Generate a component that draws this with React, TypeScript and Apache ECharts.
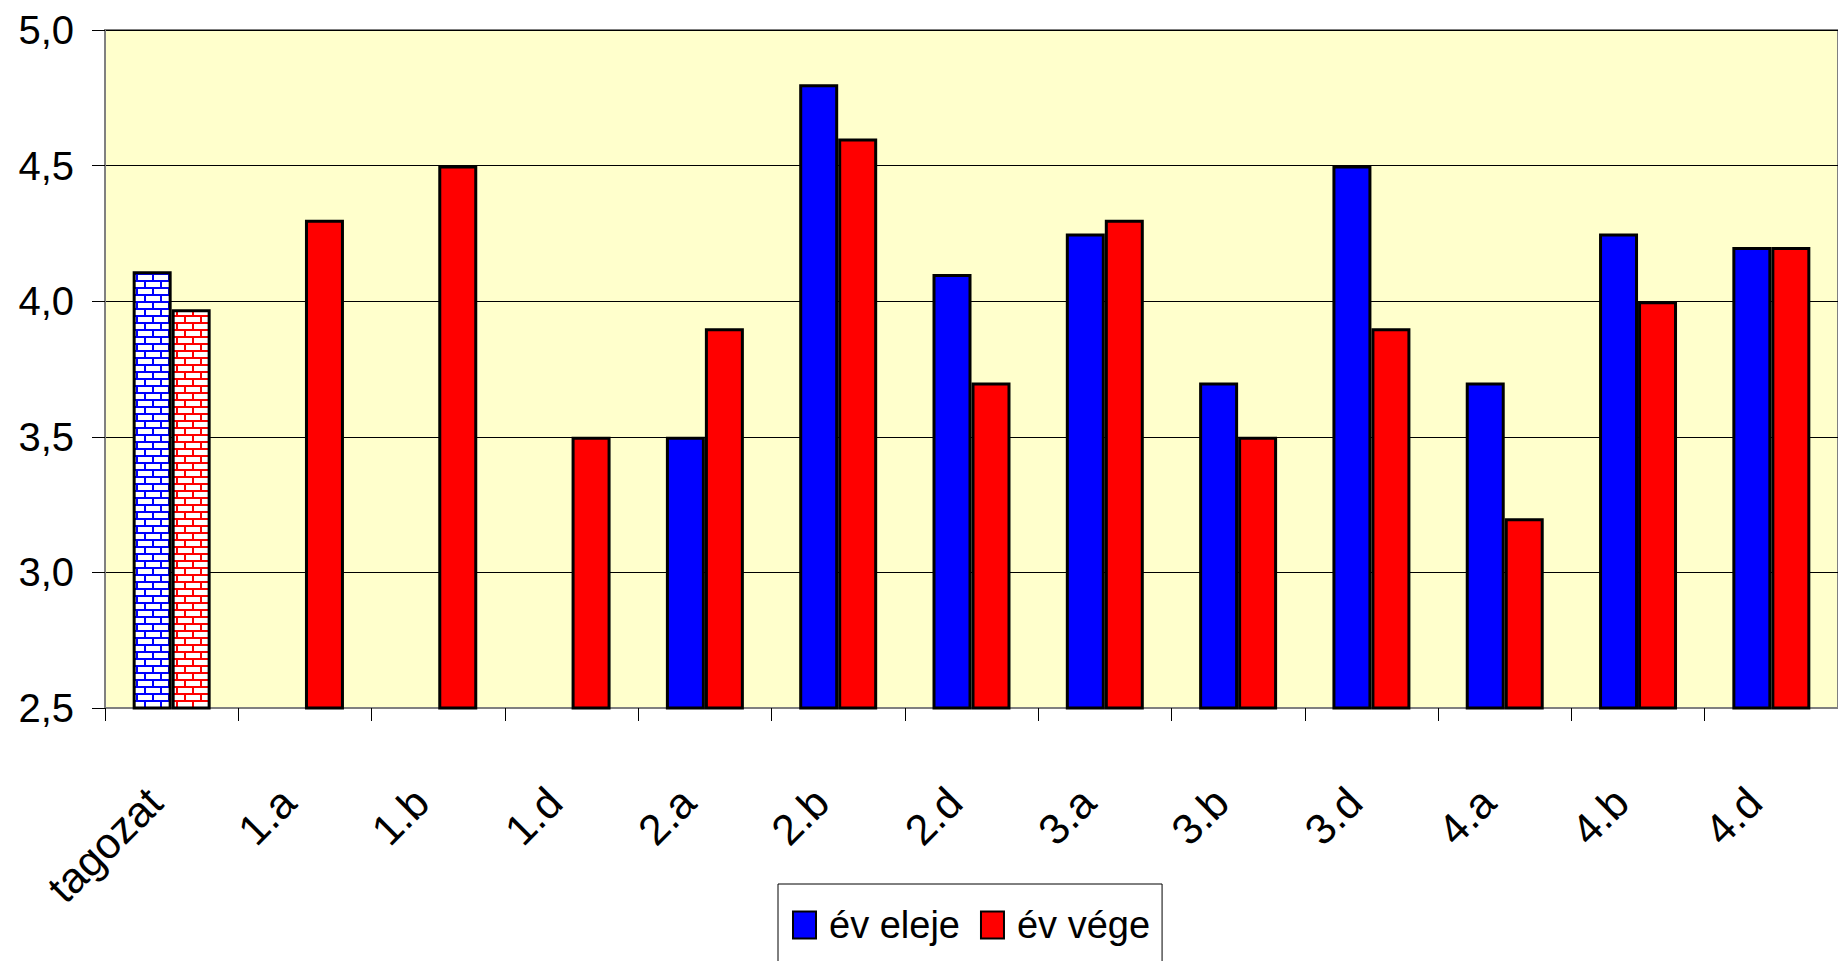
import React, { useEffect, useRef } from "react";
import * as echarts from "echarts";

const categories = ["tagozat", "1.a", "1.b", "1.d", "2.a", "2.b", "2.d", "3.a", "3.b", "3.d", "4.a", "4.b", "4.d"];
const evEleje: (number | null)[] = [4.11, null, null, null, 3.5, 4.8, 4.1, 4.25, 3.7, 4.5, 3.7, 4.25, 4.2];
const evVege: (number | null)[] = [3.97, 4.3, 4.5, 3.5, 3.9, 4.6, 3.7, 4.3, 3.5, 3.9, 3.2, 4.0, 4.2];
const seriesNames = ["év eleje", "év vége"];
const yTicks = { min: 2.5, max: 5, interval: 0.5 };

function brick(color: string) {
  const c = document.createElement("canvas");
  c.width = 16;
  c.height = 14;
  const g = c.getContext("2d")!;
  g.fillStyle = "#ffffff";
  g.fillRect(0, 0, 16, 14);
  g.fillStyle = color;
  g.fillRect(0, 0, 16, 2);
  g.fillRect(0, 7, 16, 2);
  g.fillRect(0, 0, 2, 7);
  g.fillRect(8, 7, 2, 7);
  return c;
}

export default function App() {
  const ref = useRef<HTMLDivElement>(null);
  useEffect(() => {
    if (!ref.current) return;
    const chart = echarts.init(ref.current, null, { renderer: "svg" });
    const font = "'Liberation Sans', Arial, sans-serif";
    const blueBrick = brick("#0000ff");
    const redBrick = brick("#ff0000");
    const mk = (vals: (number | null)[], pat: HTMLCanvasElement) =>
      vals.map((v, i) =>
        i === 0
          ? { value: v, itemStyle: { color: { image: pat, repeat: "repeat", imageWidth: 16, imageHeight: 14 } } }
          : v
      );
    chart.setOption({
      animation: false,
      grid: {
        left: 105,
        top: 30,
        height: 678,
        width: 1734,
        show: true,
        backgroundColor: "#FFFFCC",
        borderColor: "#808080",
        borderWidth: 2,
        containLabel: false,
      },
      legend: {
        left: 778,
        top: 884,
        orient: "horizontal",
        borderColor: "#000",
        borderWidth: 1,
        padding: [22, 12, 60, 14],
        itemGap: 20,
        itemWidth: 23,
        itemHeight: 27,
        icon: "rect",
        textStyle: { fontSize: 38, fontFamily: font, color: "#000", padding: [0, 0, 0, 8] },
        data: seriesNames,
      },
      xAxis: {
        type: "category",
        data: categories,
        axisLine: { lineStyle: { color: "#808080", width: 2 } },
        axisTick: { show: true, length: 13, lineStyle: { color: "#000", width: 1 } },
        axisLabel: {
          interval: 0,
          rotate: 45,
          fontSize: 43,
          fontFamily: font,
          color: "#000",
          margin: 70,
          padding: [0, 24, 0, 0],
        },
        splitLine: { show: false },
      },
      yAxis: {
        type: "value",
        min: yTicks.min,
        max: yTicks.max,
        interval: yTicks.interval,
        axisLine: { show: true, lineStyle: { color: "#808080", width: 2 } },
        axisTick: { show: true, length: 13, lineStyle: { color: "#000", width: 1 } },
        axisLabel: {
          fontSize: 40,
          fontFamily: font,
          color: "#000",
          margin: 31,
          formatter: (v: number) => v.toFixed(1).replace(".", ","),
        },
        splitLine: { show: true, lineStyle: { color: "#000", width: 1 } },
      },
      series: [
        {
          name: seriesNames[0],
          type: "bar",
          data: mk(evEleje, blueBrick),
          barGap: "0%",
          barCategoryGap: "41.5%",
          itemStyle: { color: "#0000ff", borderColor: "#000", borderWidth: 3 },
        },
        {
          name: seriesNames[1],
          type: "bar",
          data: mk(evVege, redBrick),
          barGap: "0%",
          barCategoryGap: "41.5%",
          itemStyle: { color: "#ff0000", borderColor: "#000", borderWidth: 3 },
        },
      ],
    });
    return () => chart.dispose();
  }, []);
  return (
    <div
      ref={ref}
      style={{ position: "fixed", left: 0, top: 0, width: 1838, height: 961, background: "#fff" }}
    />
  );
}
